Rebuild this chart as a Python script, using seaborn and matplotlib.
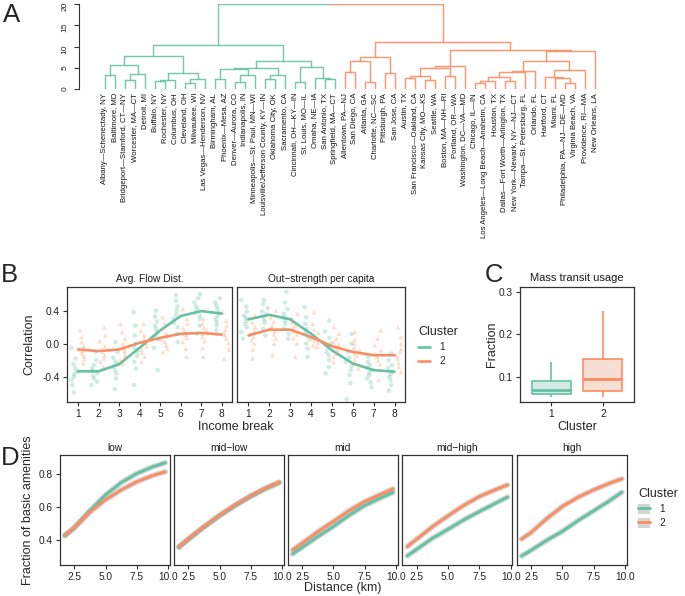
import numpy as np
import pandas as pd
import seaborn as sns
import matplotlib.pyplot as plt
from matplotlib.lines import Line2D
from matplotlib.patches import Patch

sns.set_style("ticks")
plt.rcParams["font.family"] = ["Liberation Sans", "DejaVu Sans"]
plt.rcParams["axes.unicode_minus"] = False
np.random.seed(7)  # strip jitter only

GREEN = "#66c2a5"
ORANGE = "#fc8d62"
pal = {"1": GREEN, "2": ORANGE}
INK = "#333333"

# ---------------- Panel A: dendrogram ----------------
cities = [
    "Albany—Schenectady, NY", "Baltimore, MD", "Bridgeport—Stamford, CT—NY",
    "Worcester, MA—CT", "Detroit, MI", "Buffalo, NY", "Rochester, NY",
    "Columbus, OH", "Cleveland, OH", "Milwaukee, WI", "Las Vegas—Henderson, NV",
    "Birmingham, AL", "Phoenix—Mesa, AZ", "Denver—Aurora, CO", "Indianapolis, IN",
    "Minneapolis—St. Paul, MN—WI", "Louisville/Jefferson County, KY—IN",
    "Oklahoma City, OK", "Sacramento, CA", "Cincinnati, OH—KY—IN",
    "St. Louis, MO—IL", "Omaha, NE—IA", "San Antonio, TX", "Springfield, MA—CT",
    "Allentown, PA—NJ", "San Diego, CA", "Atlanta, GA", "Charlotte, NC—SC",
    "Pittsburgh, PA", "San Jose, CA", "Austin, TX", "San Francisco—Oakland, CA",
    "Kansas City, MO—KS", "Seattle, WA", "Boston, MA—NH—RI", "Portland, OR—WA",
    "Washington, DC—VA—MD", "Chicago, IL—IN", "Los Angeles—Long Beach—Anaheim, CA",
    "Houston, TX", "Dallas—Fort Worth—Arlington, TX", "New York—Newark, NY—NJ—CT",
    "Tampa—St. Petersburg, FL", "Orlando, FL", "Hartford, CT", "Miami, FL",
    "Philadelphia, PA—NJ—DE—MD", "Virginia Beach, VA", "Providence, RI—MA",
    "New Orleans, LA",
]
city_cluster = ["1"] * 24 + ["2"] * 26

# (left node, right node, height); nodes 0-49 are leaves, merges become 50, 51, ...
merges = [
    (0, 1, 3.3), (2, 3, 2.1), (51, 4, 3.5), (50, 52, 5.6),
    (5, 6, 1.95), (54, 7, 2.1), (8, 9, 1.4), (56, 10, 2.45),
    (55, 57, 3.85), (53, 58, 7.7),
    (11, 12, 2.3), (13, 14, 1.75), (61, 15, 3.35), (60, 62, 4.65),
    (16, 17, 2.3), (64, 18, 3.3), (63, 65, 5.05),
    (19, 20, 1.6), (22, 23, 2.35), (21, 68, 2.7), (67, 69, 5.25),
    (66, 70, 6.6), (59, 71, 10.4),
    (24, 25, 3.9), (26, 27, 1.6), (73, 74, 6.7), (28, 29, 3.75), (75, 76, 7.6),
    (30, 31, 2.6), (32, 33, 2.05), (78, 79, 3.1), (34, 35, 3.15), (80, 81, 4.9),
    (82, 36, 5.5),
    (37, 38, 1.3), (84, 39, 1.8), (40, 41, 2.0), (85, 86, 2.85), (87, 42, 3.9),
    (88, 43, 4.35),
    (46, 47, 1.3), (45, 90, 2.5), (44, 91, 2.85), (92, 48, 4.55), (89, 93, 6.6),
    (94, 49, 8.95), (83, 95, 9.1), (77, 96, 11.0), (72, 97, 20.0),
]
dend_ticks = [0, 5, 10, 15, 20]

# ---------------- Panel B: correlation by income break ----------------
breaks = [1, 2, 3, 4, 5, 6, 7, 8]
break_labels = ["1", "2", "3", "4", "5", "6", "7", "8"]
corr_ticks = [-0.4, 0.0, 0.4]
corr_tick_labels = ["-0.4", "0.0", "0.4"]

flow_pts_c1 = [
    [-0.05, -0.18, -0.25, -0.3, -0.34, -0.37, -0.4, -0.44, -0.5, -0.59],
    [-0.1, -0.2, -0.26, -0.3, -0.33, -0.36, -0.39, -0.42, -0.46, -0.5],
    [0.02, -0.1, -0.17, -0.22, -0.25, -0.28, -0.32, -0.36, -0.42, -0.55],
    [0.38, 0.22, 0.1, 0.0, -0.05, -0.1, -0.15, -0.22, -0.3, -0.5],
    [0.4, 0.33, 0.27, 0.22, 0.18, 0.14, 0.1, 0.05, -0.05, -0.32],
    [0.59, 0.52, 0.45, 0.4, 0.35, 0.3, 0.25, 0.2, 0.12, 0.02],
    [0.6, 0.55, 0.5, 0.45, 0.42, 0.38, 0.34, 0.3, 0.22, 0.12],
    [0.55, 0.5, 0.46, 0.42, 0.38, 0.34, 0.3, 0.26, 0.22, 0.16],
]
flow_pts_c2 = [
    [0.16, 0.08, 0.02, -0.03, -0.06, -0.09, -0.12, -0.15, -0.19, -0.24],
    [0.2, 0.1, 0.03, -0.03, -0.07, -0.1, -0.14, -0.18, -0.22, -0.28],
    [0.24, 0.14, 0.06, 0.0, -0.05, -0.09, -0.13, -0.17, -0.2, -0.24],
    [0.24, 0.16, 0.1, 0.05, 0.01, -0.03, -0.07, -0.11, -0.16, -0.22],
    [0.32, 0.25, 0.18, 0.13, 0.09, 0.05, 0.02, -0.02, -0.06, -0.1],
    [0.42, 0.3, 0.24, 0.19, 0.15, 0.11, 0.07, 0.02, -0.06, -0.16],
    [0.4, 0.3, 0.24, 0.19, 0.16, 0.12, 0.08, 0.03, -0.05, -0.16],
    [0.38, 0.28, 0.22, 0.17, 0.13, 0.1, 0.06, 0.01, -0.07, -0.18],
]
out_pts_c1 = [
    [0.53, 0.45, 0.39, 0.34, 0.31, 0.28, 0.24, 0.2, 0.14, 0.06],
    [0.53, 0.48, 0.43, 0.39, 0.36, 0.33, 0.29, 0.25, 0.18, 0.1],
    [0.63, 0.5, 0.42, 0.36, 0.32, 0.28, 0.24, 0.18, 0.12, 0.06],
    [0.44, 0.32, 0.24, 0.18, 0.13, 0.09, 0.05, 0.0, -0.06, -0.16],
    [0.28, 0.15, 0.07, 0.0, -0.05, -0.1, -0.14, -0.2, -0.28, -0.36],
    [0.12, 0.0, -0.1, -0.17, -0.22, -0.27, -0.32, -0.38, -0.48, -0.67],
    [-0.16, -0.22, -0.26, -0.29, -0.32, -0.35, -0.38, -0.42, -0.47, -0.53],
    [-0.12, -0.2, -0.26, -0.3, -0.34, -0.37, -0.4, -0.44, -0.5, -0.57],
]
out_pts_c2 = [
    [0.34, 0.26, 0.2, 0.15, 0.11, 0.08, 0.04, 0.0, -0.07, -0.18],
    [0.4, 0.32, 0.27, 0.22, 0.19, 0.15, 0.11, 0.06, 0.0, -0.14],
    [0.36, 0.31, 0.26, 0.22, 0.19, 0.15, 0.11, 0.07, 0.0, -0.16],
    [0.38, 0.24, 0.17, 0.13, 0.1, 0.07, 0.04, 0.01, -0.02, -0.04],
    [0.2, 0.12, 0.06, 0.02, -0.01, -0.04, -0.08, -0.12, -0.16, -0.22],
    [0.14, 0.05, 0.0, -0.05, -0.08, -0.12, -0.15, -0.19, -0.24, -0.3],
    [0.16, 0.06, -0.02, -0.08, -0.12, -0.16, -0.2, -0.25, -0.32, -0.44],
    [0.2, 0.08, 0.0, -0.06, -0.1, -0.14, -0.18, -0.23, -0.28, -0.34],
]
flow_trend_c1 = [-0.335, -0.335, -0.25, -0.05, 0.16, 0.335, 0.395, 0.365]
flow_trend_c2 = [-0.07, -0.09, -0.07, 0.01, 0.07, 0.12, 0.13, 0.11]
out_trend_c1 = [0.295, 0.35, 0.295, 0.12, -0.08, -0.24, -0.32, -0.34]
out_trend_c2 = [0.10, 0.17, 0.17, 0.08, -0.03, -0.10, -0.14, -0.14]

# ---------------- Panel C: mass transit usage (min, q1, median, q3, max) ----------------
transit_c1 = [0.051, 0.058, 0.0677, 0.0898, 0.134]
transit_c2 = [0.051, 0.066, 0.0938, 0.142, 0.2557]
frac_ticks = [0.1, 0.2, 0.3]
frac_tick_labels = ["0.1", "0.2", "0.3"]

# ---------------- Panel D: fraction of basic amenities ----------------
income_groups = ["low", "mid−low", "mid", "mid−high", "high"]
dist_km = [1.75, 2.5, 3.75, 5.0, 6.25, 7.5, 8.75, 9.75]
amen_c1 = [
    [0.425, 0.475, 0.58, 0.675, 0.75, 0.805, 0.845, 0.87],
    [0.355, 0.403, 0.478, 0.547, 0.61, 0.666, 0.715, 0.748],
    [0.315, 0.355, 0.42, 0.482, 0.55, 0.61, 0.655, 0.689],
    [0.303, 0.343, 0.41, 0.465, 0.522, 0.573, 0.622, 0.661],
    [0.303, 0.337, 0.398, 0.453, 0.518, 0.578, 0.638, 0.691],
]
amen_c2 = [
    [0.43, 0.475, 0.57, 0.645, 0.705, 0.755, 0.792, 0.815],
    [0.359, 0.407, 0.482, 0.551, 0.614, 0.67, 0.719, 0.752],
    [0.34, 0.38, 0.45, 0.513, 0.578, 0.634, 0.677, 0.711],
    [0.36, 0.405, 0.48, 0.547, 0.61, 0.664, 0.705, 0.735],
    [0.406, 0.445, 0.53, 0.604, 0.66, 0.705, 0.745, 0.772],
]
dist_ticks = [2.5, 5.0, 7.5, 10.0]
dist_tick_labels = ["2.5", "5.0", "7.5", "10.0"]
amen_ticks = [0.4, 0.6, 0.8]
amen_tick_labels = ["0.4", "0.6", "0.8"]

# ---------------- figure ----------------
W, H = 685, 596
fig = plt.figure(figsize=(W / 100, H / 100), dpi=100)


def px_axes(x0, y0, x1, y1):
    return fig.add_axes([x0 / W, 1 - y1 / H, (x1 - x0) / W, (y1 - y0) / H])


def boxed(ax):
    for s in ax.spines.values():
        s.set_visible(True)
        s.set_color(INK)
        s.set_linewidth(0.9)
    ax.tick_params(direction="out", length=3, width=0.8, color=INK,
                   labelsize=7.3, labelcolor="#222222", pad=2)
    ax.set_xlabel("")
    ax.set_ylabel("")


# ---- A ----
axA = px_axes(79, 4.3, 600, 89)
xpos = {i: float(i) for i in range(len(cities))}
hgt = {i: 0.0 for i in range(len(cities))}
grp = {i: city_cluster[i] for i in range(len(cities))}
node = len(cities)
for a, b, h in merges:
    xm = (xpos[a] + xpos[b]) / 2
    for child in (a, b):
        axA.plot([xpos[child], xpos[child], xm], [hgt[child], h, h],
                 color=pal[grp[child]], lw=1.05, alpha=0.9)
    xpos[node], hgt[node] = xm, h
    grp[node] = grp[a] if grp[a] == grp[b] else None
    node += 1

axA.set_xlim(-2.6, 49.5)
axA.set_ylim(0, 20)
for s in ["top", "right", "bottom"]:
    axA.spines[s].set_visible(False)
axA.spines["left"].set_color(INK)
axA.spines["left"].set_linewidth(0.8)
axA.set_xticks([])
axA.set_yticks(dend_ticks)
axA.set_yticklabels([str(t) for t in dend_ticks])
axA.tick_params(axis="y", labelrotation=90, labelsize=6, length=3.6,
                width=0.8, color=INK, pad=4, labelcolor="#222222")
for i, name in enumerate(cities):
    axA.text(i, -0.047, name, rotation=90, ha="center", va="top", fontsize=5.6,
             transform=axA.get_xaxis_transform(), color="#111111")

# ---- B ----
facets_B = [
    ("Avg. Flow Dist.", flow_pts_c1, flow_pts_c2, flow_trend_c1, flow_trend_c2, (66.7, 232)),
    ("Out−strength per capita", out_pts_c1, out_pts_c2, out_trend_c1, out_trend_c2, (237, 405)),
]
for k, (title, p1, p2, t1, t2, (xl, xr)) in enumerate(facets_B):
    ax = px_axes(xl, 287, xr, 402)
    rows = []
    for b, v1, v2 in zip(breaks, p1, p2):
        rows += [(b, "1", v) for v in v1] + [(b, "2", v) for v in v2]
    pts = pd.DataFrame(rows, columns=["brk", "cluster", "corr"])
    for cl, mk in (("1", "o"), ("2", "^")):
        sns.stripplot(data=pts[pts.cluster == cl], x="brk", y="corr", hue="cluster",
                      hue_order=["1", "2"], palette=pal, dodge=True, native_scale=True,
                      jitter=0.3, marker=mk, size=3.3, alpha=0.3, linewidth=0,
                      legend=False, ax=ax)
    trend = pd.DataFrame({"brk": breaks * 2, "cluster": ["1"] * 8 + ["2"] * 8,
                          "corr": t1 + t2})
    sns.lineplot(data=trend, x="brk", y="corr", hue="cluster", palette=pal,
                 lw=1.9, legend=False, ax=ax)
    ax.set_xlim(0.45, 8.5)
    ax.set_ylim(-0.707, 0.687)
    ax.set_xticks(breaks)
    ax.set_xticklabels(break_labels)
    boxed(ax)
    ax.set_yticks(corr_ticks)
    if k == 0:
        ax.set_yticklabels(corr_tick_labels)
    else:
        ax.tick_params(left=False, labelleft=False)
    ax.text(0.5, 1.045, title, transform=ax.transAxes, ha="center", va="baseline",
            fontsize=7.3, color="#1a1a1a")

fig.text(236 / W, 1 - 427 / H, "Income break", ha="center", va="center", fontsize=9)
fig.text(29 / W, 1 - 344.5 / H, "Correlation", ha="center", va="center",
         rotation=90, fontsize=9)
fig.legend(handles=[Line2D([], [], color=GREEN, lw=1.9), Line2D([], [], color=ORANGE, lw=1.9)],
           labels=["1", "2"], title="Cluster", loc="upper left",
           bbox_to_anchor=(418 / W, 1 - 326 / H), frameon=False, fontsize=7.3,
           title_fontsize=9, handlelength=1.2, handletextpad=0.9, labelspacing=0.4,
           borderpad=0, borderaxespad=0, alignment="left")

# ---- C ----
axC = px_axes(520, 287, 634, 402)
box_df = pd.DataFrame({"cluster": ["1"] * 5 + ["2"] * 5, "frac": transit_c1 + transit_c2})
sns.boxplot(data=box_df, x="cluster", y="frac", hue="cluster",
            palette={"1": "#d1ede4", "2": "#fedcd0"}, whis=np.inf, width=0.75,
            showcaps=False, linewidth=1.2, legend=False, ax=axC)
for p in axC.patches:
    xc = p.get_path().vertices[:, 0].mean()
    p.set_edgecolor(GREEN if xc < 0.5 else ORANGE)
    p.set_linewidth(1.2)
for ln in axC.lines:
    xs, ys = np.asarray(ln.get_xdata()), np.asarray(ln.get_ydata())
    if xs.size == 0:
        continue
    ln.set_color(GREEN if xs.mean() < 0.5 else ORANGE)
    if xs.size == 2 and ys[0] == ys[1]:
        ln.set_linewidth(2.0)
axC.set_xlim(-0.6, 1.6)
axC.set_ylim(0.04, 0.3125)
axC.set_yticks(frac_ticks)
axC.set_yticklabels(frac_tick_labels)
boxed(axC)
axC.text(0.5, 1.05, "Mass transit usage", transform=axC.transAxes, ha="center",
         va="baseline", fontsize=8, color="#1a1a1a")
fig.text(577 / W, 1 - 427 / H, "Cluster", ha="center", va="center", fontsize=9)
fig.text(492 / W, 1 - 344.5 / H, "Fraction", ha="center", va="center",
         rotation=90, fontsize=9)

# ---- D ----
d_left = [60, 174, 287.7, 402.3, 516.7]
for k, g in enumerate(income_groups):
    ax = px_axes(d_left[k], 455, d_left[k] + 110, 565)
    dd = pd.DataFrame({"dist": dist_km * 2, "cluster": ["1"] * 8 + ["2"] * 8,
                       "amen": amen_c1[k] + amen_c2[k]})
    sns.lineplot(data=dd, x="dist", y="amen", units="cluster", estimator=None,
                 color="#9a9a9a", lw=4.0, alpha=0.4, ax=ax)
    sns.lineplot(data=dd, x="dist", y="amen", hue="cluster", palette=pal,
                 lw=2.1, legend=False, ax=ax)
    ax.set_xlim(1.36, 10.13)
    ax.set_ylim(0.248, 0.917)
    ax.set_xticks(dist_ticks)
    ax.set_xticklabels(dist_tick_labels)
    ax.set_yticks(amen_ticks)
    boxed(ax)
    if k == 0:
        ax.set_yticklabels(amen_tick_labels)
    else:
        ax.tick_params(left=False, labelleft=False)
    ax.text(0.5, 1.036, g, transform=ax.transAxes, ha="center", va="baseline",
            fontsize=7.3, color="#1a1a1a")

fig.text(343 / W, 1 - 588 / H, "Distance (km)", ha="center", va="center", fontsize=9)
fig.text(28 / W, 1 - 510 / H, "Fraction of basic amenities", ha="center",
         va="center", rotation=90, fontsize=9)
fig.legend(handles=[(Patch(facecolor="#d4d4d4", edgecolor="none"), Line2D([], [], color=GREEN, lw=2.1)),
                    (Patch(facecolor="#d4d4d4", edgecolor="none"), Line2D([], [], color=ORANGE, lw=2.1))],
           labels=["1", "2"], title="Cluster", loc="upper left",
           bbox_to_anchor=(638 / W, 1 - 488 / H), frameon=False, fontsize=7.3,
           title_fontsize=9, handlelength=1.2, handleheight=1.2, handletextpad=0.9,
           labelspacing=0.35, borderpad=0, borderaxespad=0, alignment="left")

# panel letters
for letter, x, y in (("A", 3, 21.7), ("B", 1, 282), ("C", 485, 282), ("D", 1, 465)):
    fig.text(x / W, 1 - y / H, letter, ha="left", va="baseline", fontsize=18.5)

fig.savefig("out.png", dpi=100)
